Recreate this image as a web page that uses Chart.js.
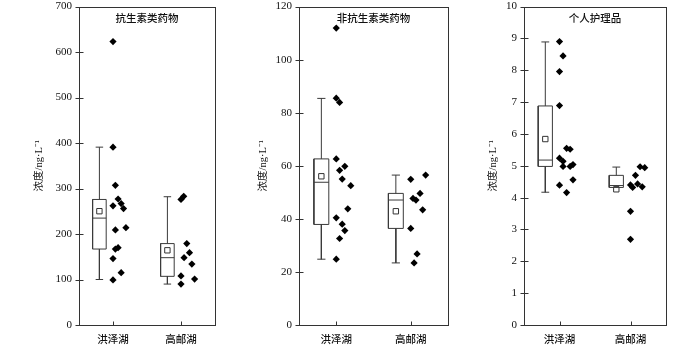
<!DOCTYPE html>
<html>
<head>
<meta charset="utf-8">
<script src="https://cdn.jsdelivr.net/npm/chart.js@4.4.1/dist/chart.umd.min.js"></script>
<style>
  body { margin: 0; background: #fff; width: 700px; height: 345px; position: relative; overflow: hidden; }
  .panel { position: absolute; top: 0; height: 345px; }
</style>
</head>
<body>
<div class="panel" style="left:33px;width:187px"><canvas id="c1"></canvas></div>
<div class="panel" style="left:257px;width:196px"><canvas id="c2"></canvas></div>
<div class="panel" style="left:487px;width:184px"><canvas id="c3"></canvas></div>
<script>
const lakes = ['洪泽湖', '高邮湖'];
const panelTitles = ['抗生素类药物', '非抗生素类药物', '个人护理品'];
const yMax = [700, 120, 10];
const yStep = [100, 20, 1];

// 抗生素类药物
const abxHongze = [623, 391, 307, 277, 267, 256, 262, 209, 214, 167, 170, 146, 115, 99];
const abxHongzeJitter = [0, 0, 0.07, 0.15, 0.24, 0.31, 0, 0.07, 0.38, 0.07, 0.15, 0, 0.24, 0];
const abxGaoyou = [276, 283, 179, 159, 148, 134, 108, 101, 90];
const abxGaoyouJitter = [0, 0.08, 0.17, 0.25, 0.09, 0.32, 0, 0.4, 0];
// [lower whisker, Q1, median, Q3, upper whisker]
const abxHongzeBox = [100, 167, 235, 276, 391];
const abxGaoyouBox = [90, 107, 148, 179, 282];

// 非抗生素类药物
const nonHongze = [111.9, 85.5, 83.9, 62.6, 59.8, 58.3, 55.0, 52.5, 43.8, 40.4, 38.0, 35.6, 32.6, 24.8];
const nonHongzeJitter = [0, 0, 0.09, 0, 0.23, 0.09, 0.16, 0.39, 0.31, 0, 0.16, 0.23, 0.09, 0];
const nonGaoyou = [54.9, 56.5, 49.6, 47.7, 47.1, 43.4, 36.4, 26.8, 23.4];
const nonGaoyouJitter = [0, 0.4, 0.25, 0.06, 0.14, 0.32, 0, 0.17, 0.09];
const nonHongzeBox = [24.8, 37.9, 53.8, 62.6, 85.4];
const nonGaoyouBox = [23.4, 36.4, 47.1, 49.6, 56.5];

// 个人护理品
const ppcHongze = [8.90, 8.45, 7.96, 6.89, 5.55, 5.52, 5.24, 5.14, 4.98, 4.98, 5.04, 4.56, 4.39, 4.16];
const ppcHongzeJitter = [0, 0.1, 0, 0, 0.2, 0.3, 0, 0.1, 0.1, 0.3, 0.38, 0.38, 0, 0.2];
const ppcGaoyou = [4.40, 4.32, 4.70, 4.43, 4.97, 4.94, 4.34, 3.57, 2.69];
const ppcGaoyouJitter = [0, 0.06, 0.14, 0.2, 0.27, 0.4, 0.33, 0, 0];
const ppcHongzeBox = [4.17, 4.98, 5.18, 6.88, 8.89];
const ppcGaoyouBox = [4.32, 4.32, 4.38, 4.70, 4.96];

const serifCJK = '"Liberation Serif", "Noto Sans CJK SC"';

// frame around the plot, short tick marks and the panel caption
const framePlugin = {
  id: 'frame',
  afterDraw(chart, args, opts) {
    const { ctx, chartArea: a, scales } = chart;
    ctx.save();
    ctx.strokeStyle = '#333';
    ctx.lineWidth = 1;
    const l = Math.round(a.left) + 0.5, t = Math.round(a.top) + 0.5;
    const r = Math.round(a.right) + 0.5, b = Math.round(a.bottom) + 0.5;
    ctx.strokeRect(l, t, r - l, b - t);
    ctx.beginPath();
    scales.y.ticks.forEach(tk => {
      const y = Math.round(scales.y.getPixelForValue(tk.value)) + 0.5;
      ctx.moveTo(l - 4, y); ctx.lineTo(l + 4, y);
    });
    scales.x.ticks.forEach(tk => {
      const x = Math.round(scales.x.getPixelForValue(tk.value)) + 0.5;
      ctx.moveTo(x, b); ctx.lineTo(x, b - 4);
    });
    ctx.stroke();
    ctx.fillStyle = '#111';
    ctx.font = '500 10.5px "Noto Sans CJK SC"';
    ctx.textAlign = 'center';
    ctx.textBaseline = 'middle';
    ctx.fillText(opts.text, (a.left + a.right) / 2, a.top + 11);
    ctx.restore();
  }
};

function makePanel(id, idx, yWidth, groups) {
  const datasets = [];
  const line = pts => datasets.push({
    data: pts, showLine: true, borderColor: '#3a3a3a', borderWidth: 1,
    pointRadius: 0, fill: false, tension: 0
  });
  groups.forEach((g, i) => {
    const c = i * 2 + 1;       // category position
    const bx = c - 0.4;        // box drawn left of the points
    const hw = 0.2, cw = 0.11;
    const [lo, q1, med, q3, hi] = g.box;
    line([{ x: bx - hw, y: q1 }, { x: bx + hw, y: q1 }, { x: bx + hw, y: q3 }, { x: bx - hw, y: q3 }, { x: bx - hw, y: q1 }]);
    line([{ x: bx - hw, y: med }, { x: bx + hw, y: med }]);
    line([{ x: bx, y: q3 }, { x: bx, y: hi }]);
    line([{ x: bx - cw, y: hi }, { x: bx + cw, y: hi }]);
    if (lo < q1) {
      line([{ x: bx, y: q1 }, { x: bx, y: lo }]);
      line([{ x: bx - cw, y: lo }, { x: bx + cw, y: lo }]);
    }
    const mean = g.values.reduce((s, v) => s + v, 0) / g.values.length;
    datasets.push({
      data: [{ x: bx, y: mean }], pointStyle: 'rect', pointRadius: 3.8,
      backgroundColor: '#fff', borderColor: '#333', borderWidth: 1
    });
    datasets.push({
      data: g.values.map((v, k) => ({ x: c + g.jitter[k], y: v })),
      pointStyle: 'rectRot', pointRadius: 3.6, backgroundColor: '#000',
      borderColor: '#000', borderWidth: 0
    });
  });

  new Chart(document.getElementById(id), {
    type: 'scatter',
    data: { datasets },
    plugins: [framePlugin],
    options: {
      responsive: true,
      maintainAspectRatio: false,
      animation: false,
      layout: { padding: { top: 0, right: 2, bottom: 0, left: 0 } },
      plugins: {
        legend: { display: false },
        tooltip: { enabled: false },
        frame: { text: panelTitles[idx] }
      },
      scales: {
        x: {
          type: 'linear', min: 0, max: 4,
          grid: { display: false, drawTicks: false }, border: { display: false },
          afterBuildTicks: s => { s.ticks = [{ value: 1 }, { value: 3 }]; },
          ticks: {
            callback: v => lakes[(v - 1) / 2],
            font: { family: '"Noto Sans CJK SC"', size: 10.5, weight: 500 },
            color: '#111', padding: 8, maxRotation: 0, autoSkip: false
          },
          afterFit: s => { s.height = 20; }
        },
        y: {
          min: 0, max: yMax[idx],
          // tickLength only offsets the labels; the marks come from the frame plugin
          grid: { display: false, drawTicks: true, tickLength: 7 }, border: { display: false },
          ticks: {
            stepSize: yStep[idx],
            font: { family: '"Liberation Serif"', size: 11 },
            color: '#111', padding: 0
          },
          title: {
            display: true, text: '浓度/ng·L⁻¹',
            font: { family: serifCJK, size: 10.5 },
            color: '#111', padding: { top: 0, bottom: 0 }
          },
          afterFit: s => { s.width = yWidth; }
        }
      }
    }
  });
}

makePanel('c1', 0, 46, [
  { values: abxHongze, jitter: abxHongzeJitter, box: abxHongzeBox },
  { values: abxGaoyou, jitter: abxGaoyouJitter, box: abxGaoyouBox }
]);
makePanel('c2', 1, 42, [
  { values: nonHongze, jitter: nonHongzeJitter, box: nonHongzeBox },
  { values: nonGaoyou, jitter: nonGaoyouJitter, box: nonGaoyouBox }
]);
makePanel('c3', 2, 37, [
  { values: ppcHongze, jitter: ppcHongzeJitter, box: ppcHongzeBox },
  { values: ppcGaoyou, jitter: ppcGaoyouJitter, box: ppcGaoyouBox }
]);
</script>
</body>
</html>
